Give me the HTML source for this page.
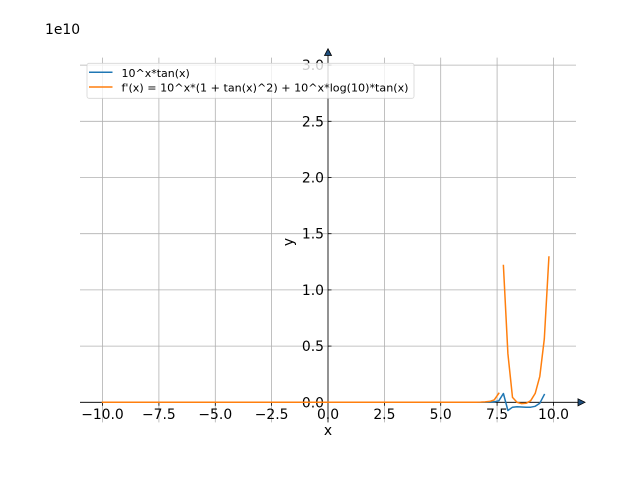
<!DOCTYPE html>
<html><head><meta charset="utf-8"><style>
html,body{margin:0;padding:0;background:#fff;}
svg{display:block;}
text{font-family:"DejaVu Sans","Liberation Sans",sans-serif;}
</style></head><body>
<svg width="640" height="480" viewBox="0 0 640 480" xmlns="http://www.w3.org/2000/svg">
<rect width="640" height="480" fill="#fff"/>
<!-- grid -->
<g stroke="#b0b0b0" stroke-width="0.8">
<line x1="102.5" y1="57.6" x2="102.5" y2="422.4"/>
<line x1="158.9" y1="57.6" x2="158.9" y2="422.4"/>
<line x1="215.3" y1="57.6" x2="215.3" y2="422.4"/>
<line x1="271.6" y1="57.6" x2="271.6" y2="422.4"/>
<line x1="328" y1="57.6" x2="328" y2="422.4"/>
<line x1="384.4" y1="57.6" x2="384.4" y2="422.4"/>
<line x1="440.7" y1="57.6" x2="440.7" y2="422.4"/>
<line x1="497.1" y1="57.6" x2="497.1" y2="422.4"/>
<line x1="553.5" y1="57.6" x2="553.5" y2="422.4"/>
<line x1="80" y1="402.3" x2="576" y2="402.3"/>
<line x1="80" y1="346.1" x2="576" y2="346.1"/>
<line x1="80" y1="289.9" x2="576" y2="289.9"/>
<line x1="80" y1="233.7" x2="576" y2="233.7"/>
<line x1="80" y1="177.5" x2="576" y2="177.5"/>
<line x1="80" y1="121.3" x2="576" y2="121.3"/>
<line x1="80" y1="65.1" x2="576" y2="65.1"/>
</g>
<!-- spines -->
<g stroke="#000" stroke-width="0.8">
<line x1="80" y1="402.3" x2="580" y2="402.3"/>
<line x1="328" y1="52" x2="328" y2="422.4"/>
<!-- y ticks -->
<line x1="328" y1="346.1" x2="331.5" y2="346.1"/>
<line x1="328" y1="289.9" x2="331.5" y2="289.9"/>
<line x1="328" y1="233.7" x2="331.5" y2="233.7"/>
<line x1="328" y1="177.5" x2="331.5" y2="177.5"/>
<line x1="328" y1="121.3" x2="331.5" y2="121.3"/>
<line x1="328" y1="65.1" x2="331.5" y2="65.1"/>
<!-- x ticks -->
<line x1="102.5" y1="402.3" x2="102.5" y2="405.8"/>
<line x1="158.9" y1="402.3" x2="158.9" y2="405.8"/>
<line x1="215.3" y1="402.3" x2="215.3" y2="405.8"/>
<line x1="271.6" y1="402.3" x2="271.6" y2="405.8"/>
<line x1="384.4" y1="402.3" x2="384.4" y2="405.8"/>
<line x1="440.7" y1="402.3" x2="440.7" y2="405.8"/>
<line x1="497.1" y1="402.3" x2="497.1" y2="405.8"/>
<line x1="553.5" y1="402.3" x2="553.5" y2="405.8"/>
</g>
<!-- arrows -->
<polygon points="578,398.8 585,402.3 578,405.8" fill="#1f4f7f" stroke="#000" stroke-width="0.8"/>
<polygon points="324.5,55.5 328,48.8 331.5,55.5" fill="#1f4f7f" stroke="#000" stroke-width="0.8"/>
<!-- tick labels -->
<g font-size="13.9" fill="#000" text-anchor="middle">
<text x="102.5" y="419">−10.0</text>
<text x="158.9" y="419">−7.5</text>
<text x="215.3" y="419">−5.0</text>
<text x="271.6" y="419">−2.5</text>
<text x="328" y="419">0.0</text>
<text x="384.4" y="419">2.5</text>
<text x="440.7" y="419">5.0</text>
<text x="497.1" y="419">7.5</text>
<text x="553.5" y="419">10.0</text>
</g>
<g font-size="13.9" fill="#000" text-anchor="end">
<text x="324" y="407.3">0.0</text>
<text x="324" y="351.1">0.5</text>
<text x="324" y="294.9">1.0</text>
<text x="324" y="238.7">1.5</text>
<text x="324" y="182.5">2.0</text>
<text x="324" y="126.3">2.5</text>
<text x="324" y="70.1">3.0</text>
</g>
<text x="45" y="34" font-size="13.9">1e10</text>
<text x="328" y="435" font-size="13.9" text-anchor="middle">x</text>
<text x="0" y="0" font-size="13.9" text-anchor="middle" transform="translate(293,242) rotate(-90)">y</text>
<!-- series -->
<polyline fill="none" stroke="#1f77b4" stroke-width="1.5" stroke-linejoin="round" stroke-linecap="square"
points="102.5,402.3 480.6,402.3 485.1,402.2 489.7,402.1 494.2,401.8 498.8,400.8 503.4,393.5 507.9,410.5 512.5,407.2 517,406.8 521.6,407 526.1,407.2 530.7,407.2 535.2,406.3 539.8,403.2 544.3,394.6"/>
<polyline fill="none" stroke="#ff7f0e" stroke-width="1.5" stroke-linejoin="round" stroke-linecap="square"
points="102.5,402.3 476,402.2 480.6,402.1 485.1,401.9 489.7,401.4 494.2,399.9 498.8,393.3"/>
<polyline fill="none" stroke="#ff7f0e" stroke-width="1.5" stroke-linejoin="round" stroke-linecap="square"
points="503.4,265.5 507.9,353.7 512.5,397.4 517,402.3 521.6,403.6 526.1,403.3 530.7,400.7 535.2,393.4 539.8,376.4 544.3,339 548.9,257"/>
<!-- legend -->
<rect x="87" y="63.3" width="327" height="35" rx="2" ry="2" fill="#fff" fill-opacity="0.8" stroke="#cccccc" stroke-opacity="0.8" stroke-width="0.8"/>
<line x1="89" y1="72.3" x2="112.5" y2="72.3" stroke="#1f77b4" stroke-width="1.5"/>
<line x1="89" y1="87" x2="112.5" y2="87" stroke="#ff7f0e" stroke-width="1.5"/>
<text x="121.5" y="76.8" font-size="11">10^x*tan(x)</text>
<text x="121.5" y="91.6" font-size="11" textLength="287" lengthAdjust="spacingAndGlyphs">f'(x) = 10^x*(1 + tan(x)^2) + 10^x*log(10)*tan(x)</text>
</svg>
</body></html>
